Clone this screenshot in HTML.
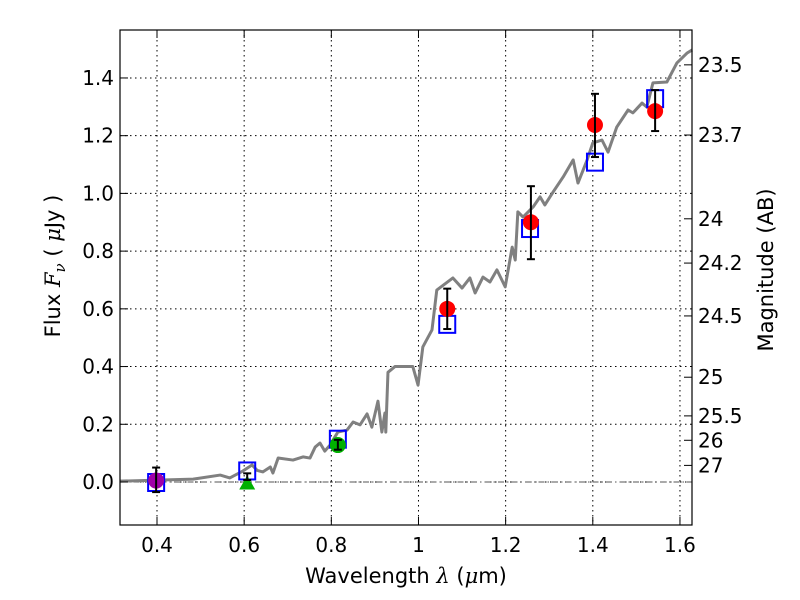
<!DOCTYPE html>
<html><head><meta charset="utf-8">
<style>
body{margin:0;background:#fff;}
svg{display:block;font-family:"DejaVu Sans","Liberation Sans",sans-serif;}
</style></head>
<body>
<svg id="chart" width="800" height="600" viewBox="0 0 800 600">
<rect width="800" height="600" fill="#fff"/>
<g id="grid"></g>
<g id="spec"></g>
<g id="marks"></g>
<rect x="120" y="30" width="572" height="495" fill="none" stroke="#000" stroke-width="1.2"/>
<g id="axes"></g>
<text x="406" y="583" font-size="21" text-anchor="middle">Wavelength  <tspan font-style="italic" font-family="DejaVu Serif,serif">λ</tspan> (<tspan font-style="italic" font-family="DejaVu Serif,serif">μ</tspan>m)</text>
<text transform="translate(60,266) rotate(-90)" font-size="21" text-anchor="middle">Flux  <tspan font-style="italic" font-family="DejaVu Serif,serif">F</tspan><tspan font-style="italic" font-family="DejaVu Serif,serif" font-size="15" dy="5">ν</tspan><tspan dy="-5">  ( </tspan><tspan font-style="italic" font-family="DejaVu Serif,serif">μ</tspan>Jy )</text>
<text transform="translate(773,270) rotate(-90)" font-size="21" text-anchor="middle">Magnitude (AB)</text>
</svg>
<script>
const xTicks=[0.4,0.6,0.8,1.0,1.2,1.4,1.6];
const xTickLabels=["0.4","0.6","0.8","1","1.2","1.4","1.6"];
const yTicks=[0,0.2,0.4,0.6,0.8,1.0,1.2,1.4];
const yTickLabels=["0.0","0.2","0.4","0.6","0.8","1.0","1.2","1.4"];
const magTicks=[23.5,23.7,24,24.2,24.5,25,25.5,26,27];
const specWave=[0.315,0.483,0.545,0.567,0.597,0.618,0.63,0.643,0.66,0.666,0.678,0.712,0.735,0.751,0.763,0.774,0.785,0.797,0.815,0.836,0.85,0.866,0.882,0.893,0.907,0.916,0.923,0.925,0.93,0.946,0.965,0.987,0.999,1.01,1.031,1.042,1.079,1.1,1.118,1.13,1.148,1.164,1.18,1.199,1.215,1.222,1.228,1.24,1.263,1.279,1.29,1.309,1.332,1.355,1.366,1.387,1.4,1.421,1.435,1.455,1.481,1.492,1.513,1.524,1.538,1.57,1.593,1.616,1.628];
const specFlux=[0.003,0.01,0.024,0.014,0.038,0.059,0.04,0.035,0.052,0.031,0.083,0.076,0.087,0.083,0.121,0.135,0.107,0.128,0.173,0.18,0.208,0.198,0.236,0.19,0.28,0.173,0.239,0.173,0.38,0.4,0.4,0.4,0.336,0.468,0.527,0.665,0.707,0.672,0.707,0.655,0.71,0.693,0.735,0.676,0.814,0.769,0.936,0.918,0.953,0.988,0.96,1.005,1.057,1.116,1.036,1.116,1.175,1.185,1.143,1.23,1.289,1.279,1.313,1.299,1.383,1.386,1.452,1.486,1.497];
const sqWave=[0.398,0.607,0.815,1.066,1.256,1.405,1.543];
const sqFlux=[0.0,0.04,0.15,0.548,0.88,1.11,1.33];
const redWave=[1.066,1.258,1.405,1.543];
const redFlux=[0.6,0.9,1.237,1.285];
const redErrLo=[0.53,0.772,1.126,1.216];
const redErrHi=[0.67,1.025,1.345,1.358];
const greenWave=[0.815];const greenFlux=[0.128];const greenLo=[0.112];const greenHi=[0.146];
const triWave=[0.607];const triFlux=[-0.005];const triHi=[0.03];
const purpleWave=[0.398];const purpleFlux=[0.005];const purpleLo=[-0.035];const purpleHi=[0.05];

const X=v=>157+(v-0.4)*435.8;
const Y=v=>482-v*288.6;
const NS="http://www.w3.org/2000/svg";
function mk(p,t,a){const e=document.createElementNS(NS,t);for(const k in a)e.setAttribute(k,a[k]);p.appendChild(e);return e;}
const grid=document.getElementById('grid'),axes=document.getElementById('axes'),spec=document.getElementById('spec'),marks=document.getElementById('marks');
xTicks.forEach((t,i)=>{const x=X(t);
 const g=mk(grid,'line',{x1:x,x2:x,y1:30,y2:525,stroke:'#000','stroke-width':1,'stroke-dasharray':'1.5,3.5'});
 
 
 mk(axes,'line',{x1:x,x2:x,y1:525,y2:517,stroke:'#000'});mk(axes,'line',{x1:x,x2:x,y1:30,y2:38,stroke:'#000'});
 const l=mk(axes,'text',{x:x,y:552,'font-size':20,'text-anchor':'middle'});l.textContent=xTickLabels[i];
 
 });
yTicks.forEach((t,i)=>{const y=Y(t);
 const g=mk(grid,'line',{x1:120,x2:692,y1:y,y2:y,stroke:'#000','stroke-width':1,'stroke-dasharray':'1.5,3.5'});
 
 
 mk(axes,'line',{x1:120,x2:128,y1:y,y2:y,stroke:'#000'});
 const l=mk(axes,'text',{x:114,y:y+7,'font-size':20,'text-anchor':'end'});l.textContent=yTickLabels[i];
 
 });
magTicks.forEach(m=>{const y=Y(Math.pow(10,(23.9-m)/2.5));
 mk(axes,'line',{x1:692,x2:684,y1:y,y2:y,stroke:'#000'});
 const l=mk(axes,'text',{x:698,y:y+7,'font-size':20});l.textContent=String(m);
 
 });
const zl=mk(grid,'line',{x1:120,x2:692,y1:Y(0),y2:Y(0),stroke:'#555','stroke-width':1,'stroke-dasharray':'6,3,1.5,3'});


const sp=mk(spec,'polyline',{points:specWave.map((w,i)=>X(w)+','+Y(specFlux[i])).join(' '),fill:'none',stroke:'#808080','stroke-width':3,'stroke-linejoin':'round'});


function err(x,lo,hi){const g=mk(marks,'g',{stroke:'#000','stroke-width':2});mk(g,'line',{x1:x,x2:x,y1:Y(lo),y2:Y(hi)});mk(g,'line',{x1:x-4,x2:x+4,y1:Y(lo),y2:Y(lo)});mk(g,'line',{x1:x-4,x2:x+4,y1:Y(hi),y2:Y(hi)});
 
 }
sqWave.forEach((w,i)=>{const r=mk(marks,'rect',{x:X(w)-8,y:Y(sqFlux[i])-8,width:16,height:17,fill:'none',stroke:'#0000ff','stroke-width':2});
 
 });
purpleWave.forEach((w,i)=>{const c=mk(marks,'circle',{cx:X(w),cy:Y(purpleFlux[i]),r:8,fill:'#a000a8'});
 
 });
purpleWave.forEach((w,i)=>err(X(w),purpleLo[i],purpleHi[i]));
triWave.forEach((w,i)=>{const x=X(w),y=Y(triFlux[i]);const t=mk(marks,'polygon',{points:`${x},${y-8} ${x-8},${y+6} ${x+8},${y+6}`,fill:'#00b000'});
 
 
 err(x,triFlux[i]+0.012,triHi[i]);});
greenWave.forEach((w,i)=>{const c=mk(marks,'circle',{cx:X(w),cy:Y(greenFlux[i]),r:8,fill:'#00b000'});
 
 
 err(X(w),greenLo[i],greenHi[i]);});
redWave.forEach((w,i)=>{const c=mk(marks,'circle',{cx:X(w),cy:Y(redFlux[i]),r:8,fill:'#ff0000'});
 
 
 err(X(w),redErrLo[i],redErrHi[i]);});
</script>
</body></html>
